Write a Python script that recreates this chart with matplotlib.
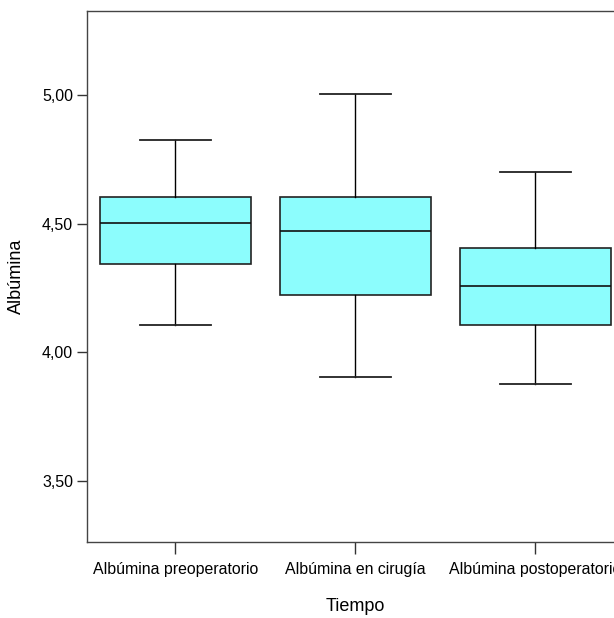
import matplotlib.pyplot as plt

plt.rcParams['font.family'] = ['Liberation Sans', 'DejaVu Sans']

categories = ['Albúmina preoperatorio', 'Albúmina en cirugía', 'Albúmina postoperatorio']
whislo = [4.105, 3.905, 3.877]
q1 = [4.345, 4.222, 4.107]
med = [4.502, 4.474, 4.257]
q3 = [4.603, 4.603, 4.408]
whishi = [4.827, 5.005, 4.703]

y_ticks = [3.5, 4.0, 4.5, 5.0]
y_ticklabels = ['3,50', '4,00', '4,50', '5,00']

stats = []
for i in range(len(categories)):
    stats.append({'whislo': whislo[i], 'q1': q1[i], 'med': med[i],
                  'q3': q3[i], 'whishi': whishi[i], 'fliers': [],
                  'label': categories[i]})

fig = plt.figure(figsize=(6.14, 6.18), dpi=100)
# axes frame runs slightly past the right edge, as in the original
ax = fig.add_axes([86.9 / 614, (618 - 542.3) / 618, (624 - 86.9) / 614, (542.3 - 11) / 618])

ax.bxp(stats, positions=[1, 2, 3], widths=0.84, capwidths=0.39,
       patch_artist=True, showfliers=False,
       boxprops=dict(facecolor='#8cfdfd', edgecolor='#222222', linewidth=1.2),
       medianprops=dict(color='#111111', linewidth=1.2),
       whiskerprops=dict(color='black', linewidth=1.0),
       capprops=dict(color='#222222', linewidth=1.3))

ax.set_xlim(0.508, 3.492)
ax.set_ylim(3.26, 5.329)
ax.set_yticks(y_ticks)
ax.set_yticklabels(y_ticklabels, fontsize=11.5)
ax.set_xticks([1, 2, 3])
ax.set_xticklabels(categories, fontsize=11.4)
ax.tick_params(axis='x', length=8.5, width=1.0, pad=6, color='#333333')
ax.tick_params(axis='y', length=7, width=1.0, pad=3, color='#333333')

for s in ax.spines.values():
    s.set_color('#444444')
    s.set_linewidth(1.0)

ax.set_xlabel('Tiempo', fontsize=13, labelpad=15)
ax.set_ylabel('Albúmina', fontsize=13, labelpad=12)

plt.savefig('out.png', dpi=100)
